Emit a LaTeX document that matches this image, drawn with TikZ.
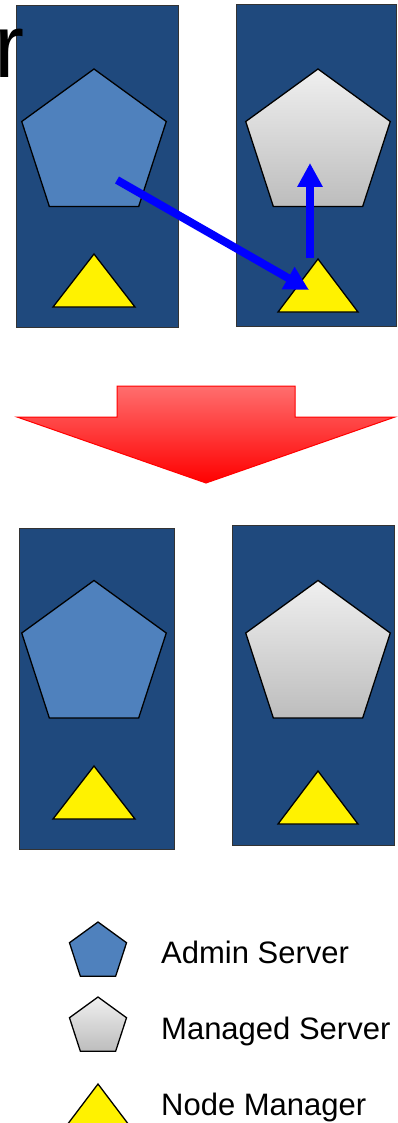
\documentclass[tikz,border=0pt]{standalone}
\usepackage{fontspec}
\setmainfont{Liberation Sans}
\usetikzlibrary{shapes.geometric,arrows.meta}
\definecolor{hostblue}{RGB}{31,73,125}
\definecolor{adminblue}{RGB}{79,129,189}
\definecolor{lightred}{RGB}{255,110,110}
\begin{document}
\begin{tikzpicture}[x=1pt, y=-1pt,
		host/.style={draw=black!80, fill=hostblue, line width=1pt},
		admin/.style={regular polygon, regular polygon sides=5, draw=black, fill=adminblue, line width=1.3pt, inner sep=0pt, minimum size=152pt},
		managed/.style={regular polygon, regular polygon sides=5, draw=black, top color=gray!12, bottom color=gray!52, line width=1.3pt, inner sep=0pt, minimum size=152pt},
		nodemgr/.style={draw=black, fill=yellow, line width=1.3pt, line join=miter},
		move/.style={draw=blue, line width=8pt, -{Triangle[length=24pt,width=24pt]}},
		legendtext/.style={anchor=base west, inner sep=0pt, font=\fontsize{31}{36}\selectfont}
		]
	\useasboundingbox (0,0) rectangle (398,1123);
	% before
	\draw[host] (16,6) rectangle (178,327);
	\draw[host] (236,5) rectangle (396,326);
	\node [admin] (as1) at (94,145) {};
	\node [managed] (ms1) at (318,145) {};
	\draw[nodemgr] (53,307) -- (94,254) -- (135,307) -- cycle;
	\draw[nodemgr] (278,312) -- (318,259) -- (358,312) -- cycle;
	\coordinate (as1 move) at (117,180);
	\coordinate (nm2 in) at (309,290);
	\coordinate (nm2 out) at (310,258);
	\coordinate (ms1 in) at (310,163);
	\draw[move] (as1 move) -- (nm2 in);
	\draw[move] (nm2 out) -- (ms1 in);
	\node [anchor=base west, inner sep=0pt, font=\fontsize{90}{100}\selectfont] (title) at (-6,78) {r};
	% big arrow
	\shade[top color=lightred, bottom color=red, draw=red, line width=1pt]
		(117,386) -- (295,386) -- (295,417) -- (395,417) -- (206,483) -- (17,417) -- (117,417) -- cycle;
	% after
	\draw[host] (19,528) rectangle (174,849);
	\draw[host] (232,525) rectangle (394,845);
	\node [admin] (as2) at (94,656.5) {};
	\node [managed] (ms2) at (318,656.5) {};
	\draw[nodemgr] (53,819) -- (94,766) -- (135,819) -- cycle;
	\draw[nodemgr] (278,824) -- (318,771) -- (358,824) -- cycle;
	% legend
	\node [admin, minimum size=60pt] (key admin) at (98,952) {};
	\node [managed, minimum size=60pt] (key managed) at (98,1027) {};
	\draw[nodemgr] (67,1125) -- (98,1084) -- (129,1125) -- cycle;
	\node [legendtext] (txt admin) at (161,963) {Admin Server};
	\node [legendtext] (txt managed) at (161,1039) {Managed Server};
	\node [legendtext] (txt nodemgr) at (161,1115) {Node Manager};
\end{tikzpicture}
\end{document}
